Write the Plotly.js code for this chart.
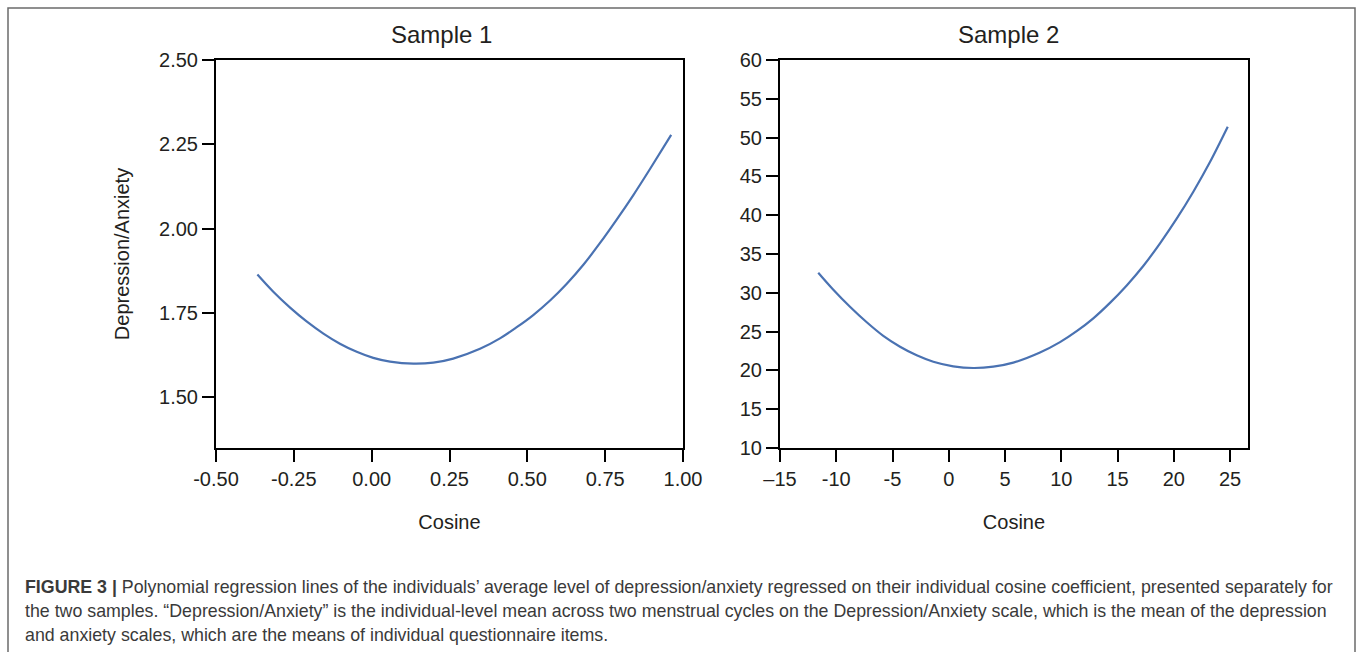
<!DOCTYPE html>
<html>
<head>
<meta charset="utf-8">
<script src="https://cdn.plot.ly/plotly-3.0.1.min.js"></script>
<style>
html,body{margin:0;padding:0;background:#fff;}
#chart{width:1357px;height:652px;}
</style>
</head>
<body>
<div id="chart"></div>
<script>
// Sample 1 regression line
const s1Cosine = [-0.367, -0.316, -0.262, -0.209, -0.155, -0.102, -0.048, 0.005, 0.059, 0.134, 0.198, 0.262, 0.348, 0.412, 0.466, 0.519, 0.573, 0.626, 0.680, 0.733, 0.787, 0.840, 0.894, 0.962];
const s1DepAnx = [1.864, 1.813, 1.766, 1.725, 1.689, 1.659, 1.635, 1.617, 1.606, 1.600, 1.603, 1.615, 1.644, 1.675, 1.708, 1.744, 1.787, 1.836, 1.893, 1.957, 2.027, 2.099, 2.177, 2.278];

// Sample 2 regression line
const s2Cosine = [-11.60, -10.26, -8.78, -7.29, -5.82, -4.33, -2.85, -1.37, 0.40, 2.18, 3.96, 5.74, 8.11, 9.89, 11.37, 12.85, 14.33, 15.82, 17.29, 18.78, 20.26, 21.74, 23.22, 24.80];
const s2DepAnx = [32.59, 30.40, 28.20, 26.20, 24.45, 23.05, 21.95, 21.12, 20.53, 20.31, 20.48, 21.00, 22.30, 23.64, 25.05, 26.71, 28.70, 30.95, 33.45, 36.38, 39.55, 43.03, 46.85, 51.40];

// Tick labels
const x1TickVals = [-0.5, -0.25, 0, 0.25, 0.5, 0.75, 1.0];
const x1TickText = ["-0.50", "-0.25", "0.00", "0.25", "0.50", "0.75", "1.00"];
const y1TickVals = [1.5, 1.75, 2.0, 2.25, 2.5];
const y1TickText = ["1.50", "1.75", "2.00", "2.25", "2.50"];
const x2TickVals = [-15, -10, -5, 0, 5, 10, 15, 20, 25];
const x2TickText = ["–15", "-10", "-5", "0", "5", "10", "15", "20", "25"];
const y2TickVals = [10, 15, 20, 25, 30, 35, 40, 45, 50, 55, 60];
const y2TickText = ["10", "15", "20", "25", "30", "35", "40", "45", "50", "55", "60"];

const panelTitles = ["Sample 1", "Sample 2"];
const xTitle = "Cosine";
const yTitle = "Depression/Anxiety";
const captionLines = [
  "<b>FIGURE 3 |</b> Polynomial regression lines of the individuals’ average level of depression/anxiety regressed on their individual cosine coefficient, presented separately for",
  "the two samples. “Depression/Anxiety” is the individual-level mean across two menstrual cycles on the Depression/Anxiety scale, which is the mean of the depression",
  "and anxiety scales, which are the means of individual questionnaire items."
];

const W = 1357, H = 652;
const px = v => v / W;
const py = v => 1 - v / H;
const FONT = "Liberation Sans, Arial, Helvetica, sans-serif";
const TXT = "#231f20";
const LINE = "#4a72b2";

const axisCommon = {
  showline: true, linecolor: "#000", linewidth: 2, mirror: true,
  ticks: "outside", ticklen: 12, tickwidth: 2, tickcolor: "#000",
  showgrid: false, zeroline: false,
  tickfont: {family: FONT, size: 20, color: TXT},
  tickmode: "array", fixedrange: true
};

const traces = [
  {x: s1Cosine, y: s1DepAnx, type: "scatter", mode: "lines", line: {color: LINE, width: 2.2, shape: "spline", smoothing: 1}, xaxis: "x", yaxis: "y", hoverinfo: "skip"},
  {x: s2Cosine, y: s2DepAnx, type: "scatter", mode: "lines", line: {color: LINE, width: 2.2, shape: "spline", smoothing: 1}, xaxis: "x2", yaxis: "y2", hoverinfo: "skip"}
];

const annotations = [
  {text: panelTitles[0], x: px(442), y: py(34), xref: "paper", yref: "paper", showarrow: false, xanchor: "center", yanchor: "middle", font: {family: FONT, size: 24, color: TXT}},
  {text: panelTitles[1], x: px(1009), y: py(34), xref: "paper", yref: "paper", showarrow: false, xanchor: "center", yanchor: "middle", font: {family: FONT, size: 24, color: TXT}}
];
const capY = [587, 611, 635];
captionLines.forEach((t, i) => {
  annotations.push({text: t, x: px(23), y: py(capY[i]), xref: "paper", yref: "paper", showarrow: false, xanchor: "left", yanchor: "middle", align: "left", font: {family: FONT, size: 17.8, color: "#3a3a3a"}});
});

const layout = {
  width: W, height: H,
  margin: {l: 0, r: 0, t: 0, b: 0},
  paper_bgcolor: "#fff", plot_bgcolor: "#fff",
  showlegend: false,
  xaxis: Object.assign({}, axisCommon, {domain: [px(216), px(683)], range: [-0.5, 1.0], tickvals: x1TickVals, ticktext: x1TickText, anchor: "y",
    title: {text: xTitle, font: {family: FONT, size: 20, color: TXT}, standoff: 26}}),
  yaxis: Object.assign({}, axisCommon, {domain: [py(448), py(60)], range: [1.35, 2.5], tickvals: y1TickVals, ticktext: y1TickText, anchor: "x",
    title: {text: yTitle, font: {family: FONT, size: 20, color: TXT}, standoff: 24}}),
  xaxis2: Object.assign({}, axisCommon, {domain: [px(780), px(1248)], range: [-15, 26.6], tickvals: x2TickVals, ticktext: x2TickText, anchor: "y2",
    title: {text: xTitle, font: {family: FONT, size: 20, color: TXT}, standoff: 26}}),
  yaxis2: Object.assign({}, axisCommon, {domain: [py(448), py(60)], range: [10, 60], tickvals: y2TickVals, ticktext: y2TickText, anchor: "x2"}),
  annotations: annotations,
  shapes: [
    {type: "rect", xref: "paper", yref: "paper", x0: px(8), x1: px(1355), y0: -0.05, y1: py(8), line: {color: "#6b6b6b", width: 1.5}, fillcolor: "rgba(0,0,0,0)", layer: "below"}
  ]
};

Plotly.newPlot("chart", traces, layout, {displayModeBar: false, staticPlot: true});
</script>
</body>
</html>
